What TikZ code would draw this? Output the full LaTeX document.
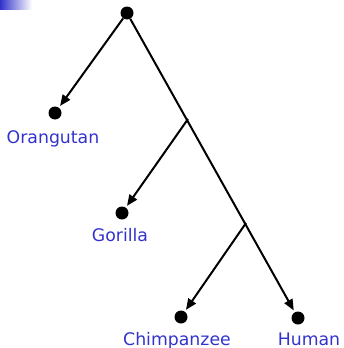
\documentclass[tikz,border=0pt]{standalone}
\usepackage{fontspec}
\setmainfont{DejaVu Sans}
\usetikzlibrary{arrows.meta}
\definecolor{labelblue}{RGB}{51,51,204}
\begin{document}
\begin{tikzpicture}[x=1pt,y=-1pt,
  dotnode/.style={circle,fill=black,minimum size=13pt,inner sep=0pt},
  leaf/.style={text=labelblue,font=\fontsize{17.3}{19}\selectfont,anchor=base,inner sep=0pt},
  edge/.style={line width=2pt,-{Triangle[length=11pt,width=9pt]},shorten >=2pt}]
\useasboundingbox (0,0) rectangle (343,348);
\shade[left color=labelblue,right color=white] (0,0) rectangle (32,9);
\node[dotnode] (root) at (127,13) {};
\node[dotnode] (orang) at (55,113) {};
\node[dotnode] (gor) at (122,213) {};
\node[dotnode] (chimp) at (181,317) {};
\node[dotnode] (human) at (298,318) {};
\coordinate (b1) at (188,119);
\coordinate (b2) at (246,223);
\node[leaf] (lorang) at (53,143) {Orangutan};
\node[leaf] (lgor) at (120,241) {Gorilla};
\node[leaf] (lchimp) at (177,345) {Chimpanzee};
\node[leaf] (lhuman) at (309,345) {Human};
\draw[edge] (root) -- (orang);
\draw[edge] (root) -- (human);
\draw[edge] (b1) -- (gor);
\draw[edge] (b2) -- (chimp);
\end{tikzpicture}
\end{document}
